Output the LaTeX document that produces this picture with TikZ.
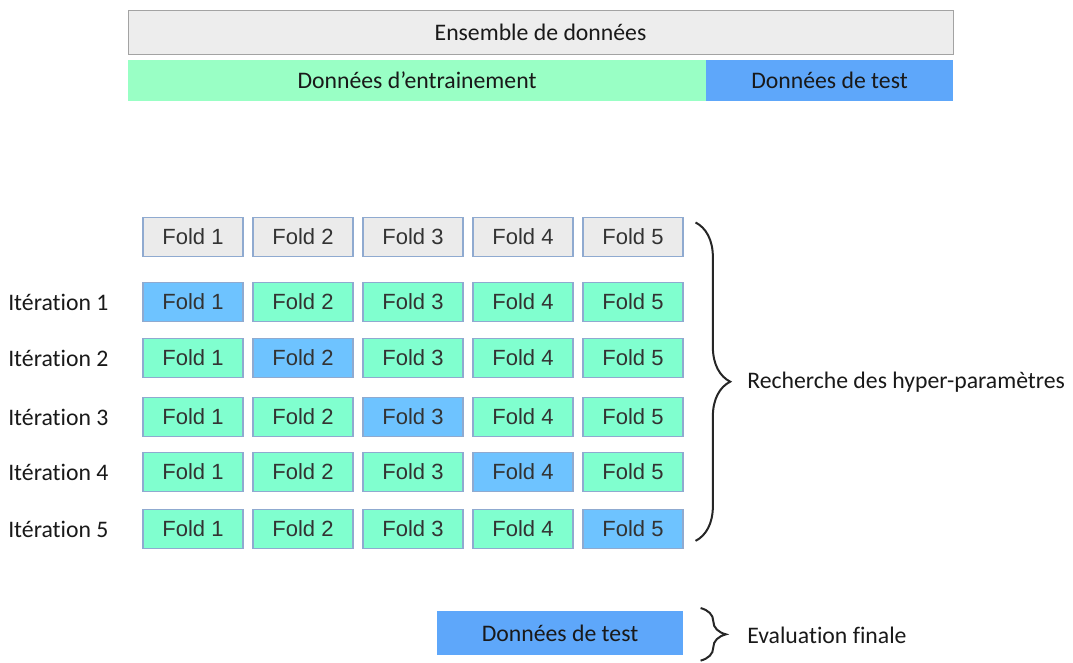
\documentclass[tikz,border=0pt]{standalone}
\usepackage{fontspec}
\setmainfont[Ligatures=NoCommon]{Carlito}
\newfontfamily\foldfont{Liberation Sans}
\usetikzlibrary{decorations.pathreplacing}
\definecolor{grisfond}{HTML}{EDEDED}
\definecolor{grisbord}{HTML}{A3A3A3}
\definecolor{vertentr}{HTML}{99FFC5}
\definecolor{bleutest}{HTML}{5EA7FA}
\definecolor{grisfold}{HTML}{EBEBEB}
\definecolor{vertfold}{HTML}{80FFCF}
\definecolor{bleufold}{HTML}{6EC3FF}
\definecolor{bordfold}{HTML}{8FAAD0}

\begin{document}
\begin{tikzpicture}[x=0.75pt,y=-0.75pt,
  bande/.style={inner sep=0pt, minimum height=31pt, font=\fontsize{17.8}{20}\selectfont, text=black!90},
  fold/.style={draw=bordfold, line width=0.8pt, inner sep=0pt, minimum width=75pt, minimum height=29pt,
    font=\foldfont\fontsize{16.5}{19}\selectfont, text=black!80},
  etiq/.style={font=\fontsize{17.8}{20}\selectfont, text=black!90, inner sep=0pt},
  accolade/.style={decorate, decoration={brace, amplitude=#1}, line width=1.5pt, black!85}]
\useasboundingbox (0,0) rectangle (1073,662);
% barre du haut
\node [bande, draw=grisbord, fill=grisfond, minimum width=618.75pt, minimum height=33pt] (ensemble) at (540.5,32) {Ensemble de données};
\node [bande, fill=vertentr, minimum width=433.5pt] (entr) at (417,80.5) {Données d’entrainement};
\node [bande, fill=bleutest, minimum width=185.25pt] (test) at (829.5,80.5) {Données de test};
% les folds
\foreach \j in {1,...,5}
  \node [fold, fill=grisfold] (h\j) at (83+110*\j,237) {Fold \j};
\foreach \i/\y in {1/302,2/358,3/417,4/472,5/529} {
  \node [etiq, anchor=west] (it\i) at (8,\y) {Itération \i};
  \foreach \j in {1,...,5} {
    \ifnum\i=\j \def\coul{bleufold}\else\def\coul{vertfold}\fi
    \node [fold, fill=\coul] (f\i\j) at (83+110*\j,\y) {Fold \j};
  }
}
\draw [accolade=26pt] ([xshift=9pt,yshift=-4pt]h5.north east) -- ([xshift=9pt,yshift=6pt]f55.south east);
\node [etiq, anchor=west] (rech) at (747,382) {Recherche des hyper-paramètres};
% test final
\node [bande, fill=bleutest, minimum width=184.5pt, minimum height=33pt] (testfin) at (560,633) {Données de test};
\draw [accolade=19pt] ([xshift=13pt,yshift=2pt]testfin.north east) -- ([xshift=13pt,yshift=-4pt]testfin.south east);
\node [etiq, anchor=west] (evalf) at (747,635) {Evaluation finale};
\end{tikzpicture}
\end{document}
